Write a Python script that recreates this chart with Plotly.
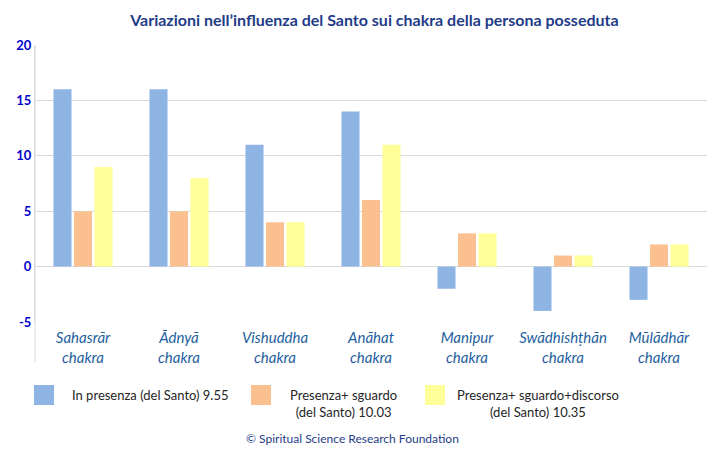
import plotly.graph_objects as go

categories = ["Sahasrār<br>chakra", "Ādnyā<br>chakra", "Vishuddha<br>chakra", "Anāhat<br>chakra",
              "Manipur<br>chakra", "Swādhishṭhān<br>chakra", "Mūlādhār<br>chakra"]
presenza = [16, 16, 11, 14, -2, -4, -3]
sguardo = [5, 5, 4, 6, 3, 1, 2]
discorso = [9, 8, 4, 11, 3, 1, 2]
series_names = ["In presenza (del Santo) 9.55", "Presenza+ sguardo<br>(del Santo) 10.03",
                "Presenza+ sguardo+discorso<br>(del Santo) 10.35"]
colors = ["#8EB4E3", "#FAC090", "#FFFF99"]
y_ticks = [-5, 0, 5, 10, 15, 20]
y_labels = ["-5", "0", "5", "10", "15", "20"]

FONT = "Lato"
fig = go.Figure()
for vals, name, col in zip([presenza, sguardo, discorso], series_names, colors):
    fig.add_trace(go.Bar(x=categories, y=vals, name=name, marker_color=col,
                         marker_line_width=0, showlegend=False))

W, H = 720, 461
L, R, T, B = 35, 13, 45, 139
pw, ph = W - L - R, H - T - B

def px(x):
    return (x - L) / pw

def py(y):
    return (H - B - y) / ph

shapes = []
annots = []
# extend the left axis line below the plot
shapes.append(dict(type="line", xref="paper", yref="paper", x0=0, x1=0, y0=1, y1=py(362),
                   line=dict(color="#D9D9D9", width=1)))
# manual legend
leg = [(34, 54, 70, "left", series_names[0]),
       (251, 271, 343, "center", series_names[1]),
       (425, 445, 538, "center", series_names[2])]
for (x0, x1, tx, al, name), col in zip(leg, colors):
    shapes.append(dict(type="rect", xref="paper", yref="paper", x0=px(x0), x1=px(x1),
                       y0=py(405), y1=py(385), fillcolor=col, line_width=0))
    yc = 395 if "<br>" not in name else 403
    annots.append(dict(xref="paper", yref="paper", x=px(tx), y=py(yc), text=name,
                       showarrow=False, xanchor="left" if al == "left" else "center",
                       yanchor="middle", align="center",
                       font=dict(family=FONT, size=13, color="#262626")))
annots.append(dict(xref="paper", yref="paper", x=px(352), y=py(438),
                   text="© Spiritual Science Research Foundation", showarrow=False,
                   xanchor="center", yanchor="middle",
                   font=dict(family=FONT, size=12, color="#1F3C88")))

fig.update_layout(
    width=W, height=H,
    margin=dict(l=L, r=R, t=T, b=B),
    paper_bgcolor="white", plot_bgcolor="white",
    title=dict(text="<b>Variazioni nell’influenza del Santo sui chakra della persona posseduta</b>",
               x=0.52, xanchor="center", y=1 - 20 / H, yanchor="middle",
               font=dict(family=FONT, size=16, color="#1F3C88")),
    barmode="group", bargap=0.36, bargroupgap=0.12,
    xaxis=dict(showgrid=False, showline=False, ticks="", ticklabelstandoff=5,
               tickfont=dict(family=FONT, size=15, color="#1F5FA0", style="italic")),
    yaxis=dict(range=[-5, 20], tickvals=y_ticks, ticktext=y_labels, showgrid=True,
               gridcolor="#D9D9D9",
               zeroline=True, zerolinecolor="#D9D9D9", zerolinewidth=1,
               showline=True, linecolor="#D9D9D9", ticks="",
               tickfont=dict(family=FONT, size=13, color="#0000CC", weight="bold")),
    shapes=shapes, annotations=annots,
)
fig.write_html("out.html")
